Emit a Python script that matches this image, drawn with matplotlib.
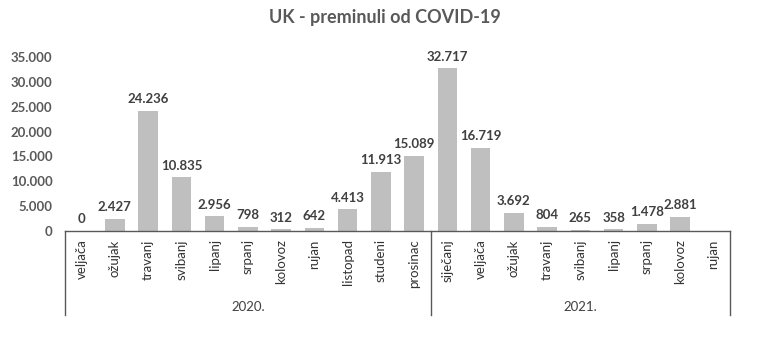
import matplotlib
matplotlib.use("Agg")
import matplotlib.pyplot as plt
import matplotlib.transforms as mtransforms
import numpy as np

months_2020 = ["veljača", "ožujak", "travanj", "svibanj", "lipanj", "srpanj",
               "kolovoz", "rujan", "listopad", "studeni", "prosinac"]
months_2021 = ["siječanj", "veljača", "ožujak", "travanj", "svibanj", "lipanj",
               "srpanj", "kolovoz", "rujan"]
deaths_2020 = [0, 2427, 24236, 10835, 2956, 798, 312, 642, 4413, 11913, 15089]
deaths_2021 = [32717, 16719, 3692, 804, 265, 358, 1478, 2881, None]
years = ["2020.", "2021."]
yticks = [0, 5000, 10000, 15000, 20000, 25000, 30000, 35000]

plt.rcParams["font.family"] = ["Lato", "DejaVu Sans"]

labels = months_2020 + months_2021
values = deaths_2020 + deaths_2021
x = np.arange(len(labels))

def fmt(v):
    return f"{v:,}".replace(",", ".")

fig = plt.figure(figsize=(7.69, 3.47), dpi=100)
ax = fig.add_axes([65 / 769, 1 - 231 / 347, 665 / 769, 174 / 347])

txt = "#404040"
for xi, v in zip(x, values):
    if v is None:
        continue
    ax.bar(xi, v, width=0.58, color="#bfbfbf", zorder=2)
    ax.annotate(fmt(v), (xi, v), xytext=(0, 4), textcoords="offset points",
                ha="center", va="bottom", fontsize=9.5, fontweight="bold",
                color=txt)

ax.set_xlim(-0.5, len(labels) - 0.5)
ax.set_ylim(0, 35000)
ax.set_yticks(yticks)
ax.set_yticklabels([fmt(t) for t in yticks], fontsize=9.5, fontweight="bold",
                   color="#595959")
ax.tick_params(axis="y", length=0, pad=9)
ax.set_xticks(x)
ax.set_xticklabels(labels, rotation=90, fontsize=9.5, color="#333333", va="top")
ax.tick_params(axis="x", length=0, pad=6)

for s in ["top", "right", "left"]:
    ax.spines[s].set_visible(False)
ax.spines["bottom"].set_color("#595959")
ax.spines["bottom"].set_linewidth(1.0)

# group separators and year labels below the month axis
trans = mtransforms.blended_transform_factory(ax.transData, ax.transAxes)
n20 = len(months_2020)
for bx in [-0.5, n20 - 0.5, len(labels) - 0.5]:
    ax.plot([bx, bx], [0, -0.485], transform=trans, color="#595959",
            lw=1.0, clip_on=False)
ax.text((n20 - 1) / 2, -0.435, years[0], transform=trans, ha="center",
        va="center", fontsize=9.5, color="#404040")
ax.text(n20 + (len(months_2021) - 1) / 2, -0.435, years[1], transform=trans,
        ha="center", va="center", fontsize=9.5, color="#404040")

fig.text(0.5, 1 - 18 / 347, "UK - preminuli od COVID-19", ha="center",
         va="center", fontsize=13, fontweight="bold", color="#595959")

fig.savefig("out.png", dpi=100)
